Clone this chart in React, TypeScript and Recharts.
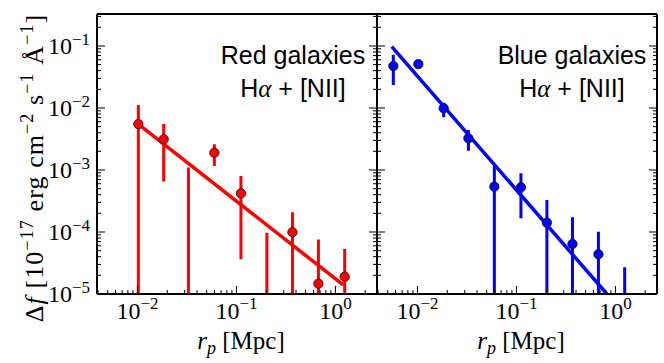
import React from "react";
import { ComposedChart, Line, Scatter, XAxis, YAxis, Customized } from "recharts";

// projected separation bins [Mpc] and excess flux
const rpRed = [0.0102, 0.0184, 0.0327, 0.0598, 0.111, 0.203, 0.368, 0.673, 1.24];
const fRed = [5.5e-3, 3.13e-3, null, 1.9e-3, 4.2e-4, null, 9.9e-5, 1.47e-5, 1.9e-5];
const hiRed = [1.12e-2, 5.5e-3, 1.1e-3, 2.6e-3, 8.0e-4, 9.7e-5, 2.08e-4, 7.6e-5, 5.3e-5];
// 0 = error bar runs below the plotted range
const loRed = [0, 6.5e-4, 0, 1.16e-3, 3.67e-5, 0, 0, 0, 0];
const fitRedX = [0.0102, 1.2];
const fitRedY = [5.5e-3, 1.4e-5];

const rpBlue = [0.0057, 0.0102, 0.0184, 0.0327, 0.0598, 0.111, 0.203, 0.368, 0.673, 1.24];
const fBlue = [4.75e-2, 5.1e-2, 9.9e-3, 3.24e-3, 5.4e-4, 5.26e-4, 1.41e-4, 6.4e-5, 4.37e-5, null];
const hiBlue = [7.2e-2, null, 1.22e-2, 4.4e-3, 1.25e-3, 8.85e-4, 3.28e-4, 1.73e-4, 1.01e-4, 2.7e-5];
const loBlue = [2.35e-2, null, 7.1e-3, 2.05e-3, 0, 1.66e-4, 0, 0, 0, 0];
const fitBlueX = [0.0055, 0.82];
const fitBlueY = [9.75e-2, 1e-5];

const W = 664;
const H = 363;
const TOP = 14;
const BOTTOM = 294;
const X_DOMAIN = [0.0039, 2.63];
const Y_DOMAIN = [1e-5, 0.328];

const logTicks = (e0: number, e1: number, dom: number[]) => {
  const out: number[] = [];
  for (let e = e0; e <= e1; e++) {
    for (let m = 1; m <= 9; m++) {
      const v = m * Math.pow(10, e);
      if (v >= dom[0] * 0.999 && v <= dom[1]) out.push(v);
    }
  }
  return out;
};
const xTicks = logTicks(-3, 0, X_DOMAIN);
const yTicks = logTicks(-5, -1, Y_DOMAIN);

const SERIF = "'Liberation Serif', 'Times New Roman', serif";
const SANS = "'Liberation Sans', Arial, sans-serif";

const AxisTick = (props: any) => {
  const { x, y, payload, side, labels } = props;
  const lg = Math.log10(payload.value);
  const major = Math.abs(lg - Math.round(lg)) < 1e-6;
  const len = major ? 8 : 4;
  let c = [x, y, x, y - len];
  if (side === "top") c = [x, y, x, y + len];
  if (side === "left") c = [x, y, x + len, y];
  if (side === "right") c = [x, y, x - len, y];
  const exp = Math.round(lg);
  const sup = exp < 0 ? "\u2212" + -exp : String(exp);
  return (
    <g>
      <line x1={c[0]} y1={c[1]} x2={c[2]} y2={c[3]} stroke="#000" strokeWidth={1} />
      {labels && major && side === "bottom" && (
        <text x={x} y={y + 25} textAnchor="middle" fontFamily={SERIF} fontSize={24} fill="#000">
          10<tspan dy={-10} fontSize={17}>{sup}</tspan>
        </text>
      )}
      {labels && major && side === "left" && (
        <text x={x - 7} y={y + 8} textAnchor="end" fontFamily={SERIF} fontSize={24} fill="#000">
          10<tspan dy={-9} fontSize={17}>{sup}</tspan>
        </text>
      )}
    </g>
  );
};

const errRows = (xs: number[], hi: (number | null)[], lo: (number | null)[]) =>
  xs.flatMap((x, i) =>
    hi[i] == null
      ? []
      : [
          { x, y: (lo[i] as number) > 0 ? lo[i] : Y_DOMAIN[0] / 100 },
          { x, y: hi[i] },
          { x, y: null },
        ]
  );

const Dot = (p: any) => (
  <circle cx={p.cx} cy={p.cy} r={4.7} fill={p.fill} stroke="#111" strokeWidth={0.8} />
);

interface PanelProps {
  left: number;
  right: number;
  xs: number[];
  f: (number | null)[];
  hi: (number | null)[];
  lo: (number | null)[];
  fitX: number[];
  fitY: number[];
  color: string;
  title: string;
  titleX: number;
  yLabels: boolean;
}

const Panel = ({ left, right, xs, f, hi, lo, fitX, fitY, color, title, titleX, yLabels }: PanelProps) => {
  const pts = xs.map((x, i) => ({ x, y: f[i] })).filter((p) => p.y != null);
  const err = errRows(xs, hi, lo);
  const fit = fitX.map((x, i) => ({ x, y: fitY[i] }));
  const midX = (left + right) / 2 + 4;
  const axisLine = { stroke: "#000", strokeWidth: 2 };
  // axes are 1px thick so they render; margins are reduced to match
  return (
    <div style={{ position: "absolute", left: 0, top: 0 }}>
      <ComposedChart
        width={W}
        height={H}
        margin={{ top: TOP - 1, bottom: H - BOTTOM - 1, left: left - 1, right: W - right - 1 }}
      >
        <XAxis
          dataKey="x"
          type="number"
          scale="log"
          domain={X_DOMAIN}
          allowDataOverflow
          ticks={xTicks}
          interval={0}
          height={1}
          tickSize={0}
          tickMargin={0}
          tickLine={false}
          axisLine={axisLine}
          tick={(p: any) => <AxisTick {...p} side="bottom" labels />}
        />
        <XAxis
          xAxisId="top"
          orientation="top"
          type="number"
          scale="log"
          domain={X_DOMAIN}
          allowDataOverflow
          ticks={xTicks}
          interval={0}
          height={1}
          tickSize={0}
          tickMargin={0}
          tickLine={false}
          axisLine={axisLine}
          tick={(p: any) => <AxisTick {...p} side="top" />}
        />
        <YAxis
          dataKey="y"
          type="number"
          scale="log"
          domain={Y_DOMAIN}
          allowDataOverflow
          ticks={yTicks}
          interval={0}
          width={1}
          tickSize={0}
          tickMargin={0}
          tickLine={false}
          axisLine={axisLine}
          tick={(p: any) => <AxisTick {...p} side="left" labels={yLabels} />}
        />
        <YAxis
          yAxisId="right"
          orientation="right"
          type="number"
          scale="log"
          domain={Y_DOMAIN}
          allowDataOverflow
          ticks={yTicks}
          interval={0}
          width={1}
          tickSize={0}
          tickMargin={0}
          tickLine={false}
          axisLine={axisLine}
          tick={(p: any) => <AxisTick {...p} side="right" />}
        />
        <Line
          data={err}
          dataKey="y"
          stroke={color}
          strokeWidth={3}
          dot={false}
          connectNulls={false}
          isAnimationActive={false}
        />
        <Line
          data={fit}
          dataKey="y"
          stroke={color}
          strokeWidth={3.5}
          dot={false}
          isAnimationActive={false}
        />
        <Scatter data={pts} dataKey="y" fill={color} shape={Dot} isAnimationActive={false} />
        <Customized
          component={() => (
            <g>
              <text x={titleX} y={64} textAnchor="middle" fontFamily={SANS} fontSize={25} fill="#000">
                {title}
              </text>
              <text x={titleX} y={97} textAnchor="middle" fontFamily={SANS} fontSize={25} fill="#000">
                H<tspan fontFamily={SERIF} fontStyle="italic">α</tspan> + [NII]
              </text>
              <text x={midX} y={349} textAnchor="middle" fontFamily={SERIF} fontSize={25} fill="#000">
                <tspan fontStyle="italic">r</tspan>
                <tspan dy={5} fontSize={18} fontStyle="italic">p</tspan>
                <tspan dy={-5}> [Mpc]</tspan>
              </text>
              {yLabels && (
                <text
                  transform="translate(43,168) rotate(-90)"
                  textAnchor="middle"
                  fontFamily={SERIF}
                  fontSize={26}
                  letterSpacing={1.1}
                  fill="#000"
                >
                  Δ<tspan fontStyle="italic">f</tspan> [10
                  <tspan dy={-10} fontSize={18}>−17</tspan>
                  <tspan dy={10}> erg cm</tspan>
                  <tspan dy={-10} fontSize={18}>−2</tspan>
                  <tspan dy={10}> s</tspan>
                  <tspan dy={-10} fontSize={18}>−1</tspan>
                  <tspan dy={10}> Å</tspan>
                  <tspan dy={-10} fontSize={18}>−1</tspan>
                  <tspan dy={10}>]</tspan>
                </text>
              )}
            </g>
          )}
        />
      </ComposedChart>
    </div>
  );
}

export default function App() {
  return (
    <div style={{ position: "absolute", left: 0, top: 0, width: W, height: H, background: "#fff" }}>
      <Panel
        left={97}
        right={377}
        xs={rpRed}
        f={fRed}
        hi={hiRed}
        lo={loRed}
        fitX={fitRedX}
        fitY={fitRedY}
        color="#ff0000"
        title="Red galaxies"
        titleX={293}
        yLabels
      />
      <Panel
        left={377}
        right={657}
        xs={rpBlue}
        f={fBlue}
        hi={hiBlue}
        lo={loBlue}
        fitX={fitBlueX}
        fitY={fitBlueY}
        color="#0000ff"
        title="Blue galaxies"
        titleX={572}
        yLabels={false}
      />
    </div>
  );
}
